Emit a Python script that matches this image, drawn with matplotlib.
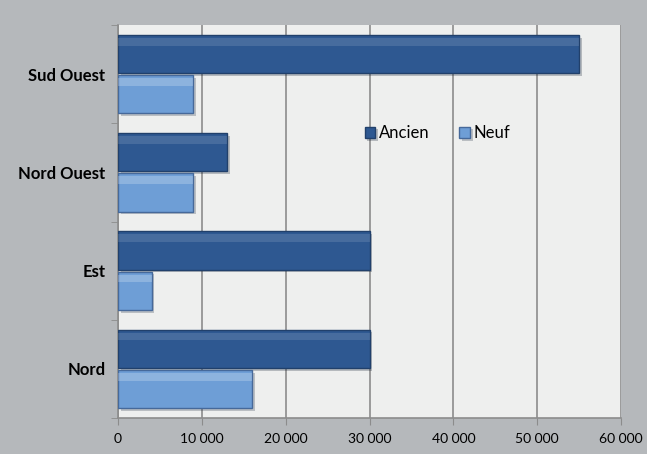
import matplotlib.pyplot as plt
import matplotlib.patheffects as pe
from matplotlib.ticker import FuncFormatter, MultipleLocator
import numpy as np

regions = ["Nord", "Est", "Nord Ouest", "Sud Ouest"]
ancien = [30000, 30000, 13000, 55000]
neuf = [16000, 4000, 9000, 9000]

plt.rcParams['font.family'] = ['Lato', 'DejaVu Sans']

fig = plt.figure(figsize=(6.47, 4.54), dpi=100, facecolor="#b5b8bb")
ax = fig.add_axes([118/647, 36/454, 503/647, 393/454])
ax.set_facecolor("#eeefee")

y = np.arange(len(regions))
h = 0.39
shadow = [pe.SimplePatchShadow(offset=(2, -2), alpha=0.25), pe.Normal()]

b1 = ax.barh(y + h/2 + 0.01, ancien, height=h, color="#2e5891", edgecolor="#21406b",
             linewidth=1, label="Ancien", zorder=3, path_effects=shadow)
b2 = ax.barh(y - h/2 - 0.01, neuf, height=h, color="#6e9ed6", edgecolor="#46699a",
             linewidth=1, label="Neuf", zorder=3, path_effects=shadow)

# soft highlight near the top of each bar (bevel look)
ax.barh(y + h/2 + 0.01 + h*0.32, ancien, height=h*0.2, color="#ffffff", alpha=0.12,
        linewidth=0, zorder=4)
ax.barh(y - h/2 - 0.01 + h*0.32, neuf, height=h*0.2, color="#ffffff", alpha=0.22,
        linewidth=0, zorder=4)

ax.set_xlim(0, 60000)
ax.set_ylim(-0.5, len(regions) - 0.5)
ax.xaxis.set_major_locator(MultipleLocator(10000))
ax.xaxis.set_major_formatter(FuncFormatter(lambda v, p: f"{int(v):,}".replace(",", " ")))
ax.grid(axis="x", color="#8c8c8c", linewidth=1.2, zorder=0)

ax.set_yticks(y)
ax.set_yticklabels(regions, fontweight="bold", fontsize=12)
ax.set_yticks(np.arange(len(regions) + 1) - 0.5, minor=True)
ax.tick_params(axis="y", which="major", length=0, pad=9)
ax.tick_params(axis="y", which="minor", length=5, color="#8c8c8c")
ax.tick_params(axis="x", length=5, color="#8c8c8c", labelsize=10, pad=6)

for s in ["top", "right"]:
    ax.spines[s].set_visible(False)
for s in ["left", "bottom"]:
    ax.spines[s].set_color("#8c8c8c")
    ax.spines[s].set_linewidth(1.2)

ax.legend(handles=[b1, b2], loc="center", bbox_to_anchor=(0.635, 0.725), ncol=2, frameon=False,
          fontsize=12, handlelength=0.65, handleheight=0.65, handletextpad=0.2, columnspacing=1.8)

plt.savefig("out.png", dpi=100, facecolor=fig.get_facecolor())
